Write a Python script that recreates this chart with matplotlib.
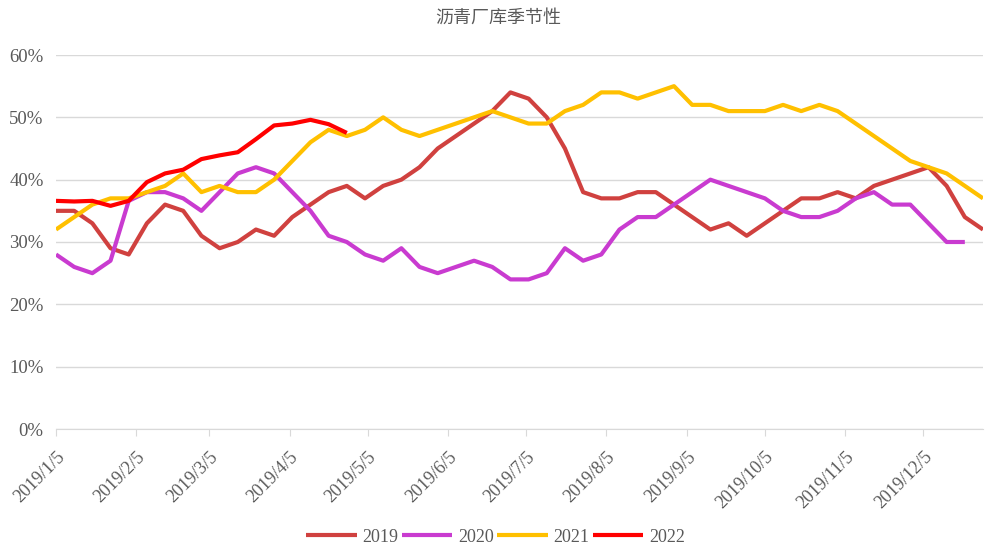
import pandas as pd
import matplotlib.pyplot as plt
from matplotlib.ticker import FuncFormatter

plt.rcParams['font.family'] = ['Liberation Serif', 'Noto Sans CJK SC', 'DejaVu Sans']

# weekly dates on a 2019 calendar
dates = pd.date_range('2019-01-05', periods=52, freq='7D')

s2019 = [35, 35, 33, 29, 28, 33, 36, 35, 31, 29, 30, 32, 31, 34, 36, 38, 39, 37, 39, 40,
         42, 45, 47, 49, 51, 54, 53, 50, 45, 38, 37, 37, 38, 38, 36, 34, 32, 33, 31, 33,
         35, 37, 37, 38, 37, 39, 40, 41, 42, 39, 34, 32]
s2020 = [28, 26, 25, 27, 36.6, 38, 38, 37, 35, 38, 41, 42, 41, 38, 35, 31, 30, 28, 27, 29,
         26, 25, 26, 27, 26, 24, 24, 25, 29, 27, 28, 32, 34, 34, 36, 38, 40, 39, 38, 37,
         35, 34, 34, 35, 37, 38, 36, 36, 33, 30, 30]
s2021 = [32, 34, 36, 37, 37, 38, 39, 41, 38, 39, 38, 38, 40, 43, 46, 48, 47, 48, 50, 48,
         47, 48, 49, 50, 51, 50, 49, 49, 51, 52, 54, 54, 53, 54, 55, 52, 52, 51, 51, 51,
         52, 51, 52, 51, 49, 47, 45, 43, 42, 41, 39, 37]
s2022 = [36.6, 36.5, 36.6, 35.8, 36.6, 39.6, 41, 41.6, 43.3, 43.9, 44.4, 46.5, 48.7, 49,
         49.6, 48.9, 47.5]

series = {
    '2019': (s2019, '#d0413f'),
    '2020': (s2020, '#c93bd0'),
    '2021': (s2021, '#ffc000'),
    '2022': (s2022, '#ff0000'),
}

fig = plt.figure(figsize=(9.97, 5.59), dpi=100)
ax = fig.add_axes([56 / 997, 1 - 429 / 559, (983 - 56) / 997, (429 - 55) / 559])

for name, (vals, color) in series.items():
    ax.plot(dates[:len(vals)], vals, color=color, lw=3, label=name, solid_capstyle='butt')

ax.set_ylim(0, 60)
ax.set_yticks(range(0, 61, 10))
ax.yaxis.set_major_formatter(FuncFormatter(lambda v, p: f'{int(v)}%'))

month_ticks = pd.to_datetime([f'2019-{m:02d}-05' for m in range(1, 13)])
ax.set_xticks(month_ticks)
ax.set_xticklabels([f'2019/{d.month}/5' for d in month_ticks], rotation=45,
                   ha='right', rotation_mode='anchor')
ax.set_xlim(dates[0], dates[-1])

ax.grid(axis='y', color='#d9d9d9', lw=1)
ax.set_axisbelow(True)
for side in ['left', 'right', 'top']:
    ax.spines[side].set_visible(False)
ax.spines['bottom'].set_color('#d9d9d9')
ax.tick_params(axis='y', length=0, labelsize=13.5, labelcolor='#595959', pad=9)
ax.tick_params(axis='x', length=5, color='#d9d9d9', labelsize=13, labelcolor='#595959', pad=9)

fig.suptitle('沥青厂库季节性', y=0.985, fontsize=13, color='#595959',
             family=['Noto Sans CJK SC', 'DejaVu Sans'])

fig.legend(loc='lower center', bbox_to_anchor=(0.497, -0.005), ncol=4, frameon=False,
           fontsize=13, handlelength=2.8, handletextpad=0.3, columnspacing=0.2,
           labelcolor='#595959')

fig.savefig('out.png', dpi=100)
